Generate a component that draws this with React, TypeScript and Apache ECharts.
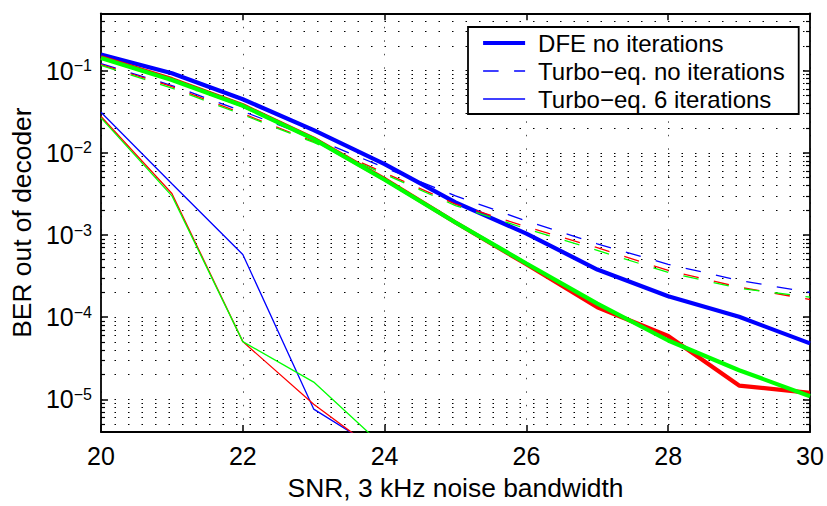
import React, { useEffect, useRef } from 'react';
import * as echarts from 'echarts';

// SNR values (dB, 3 kHz noise bandwidth)
const snr = [20, 21, 22, 23, 24, 25, 26, 27, 28, 29, 30];
const snrIter = [20, 21, 22, 23, 24];

// DFE, no iterations (thick solid)
const dfeBlue = [0.157, 0.093, 0.0449, 0.0189, 0.0073, 0.0025, 0.00104, 0.00038, 0.00018, 0.000101, 0.000048];
const dfeRed = [0.146, 0.079, 0.038, 0.0149, 0.0048, 0.00142, 0.00044, 0.000132, 0.000059, 0.0000147, 0.000012];
const dfeGreen = [0.143, 0.077, 0.0374, 0.0147, 0.0047, 0.00142, 0.00045, 0.000146, 0.000052, 0.0000226, 0.0000109];

// Turbo-equaliser, no iterations (dashed)
const turboBlue = [0.122, 0.066, 0.032, 0.0151, 0.0066, 0.003, 0.00148, 0.00078, 0.00044, 0.00028, 0.0002];
const turboRed = [0.119, 0.064, 0.03, 0.0137, 0.0057, 0.00238, 0.00126, 0.0007, 0.00037, 0.000232, 0.000164];
const turboGreen = [0.116, 0.0614, 0.0291, 0.0134, 0.0055, 0.00228, 0.00119, 0.00065, 0.00035, 0.000225, 0.000175];

// Turbo-equaliser, 6 iterations (thin solid)
const iterBlue = [0.0312, 0.0042, 0.00058, 0.0000076, 0.0000022];
const iterRed = [0.0277, 0.0032, 0.0000504, 0.0000087, 0.000002];
const iterGreen = [0.0267, 0.003, 0.0000504, 0.0000162, 0.0000026];

const legendNames = ['DFE no iterations', 'Turbo\u2212eq. no iterations', 'Turbo\u2212eq. 6 iterations'];
const yTickExponents = [-1, -2, -3, -4, -5];

const FONT = '"Liberation Sans", Arial, Helvetica, sans-serif';
const BLUE = '#0000ff';
const RED = '#ff0000';
const GREEN = '#00ff00';
const DASH = [15.5, 15.5];
const GRID_DOT = [1.5, 12];

const pairs = (xs: number[], ys: number[]) => xs.map((x, i) => [x, ys[i]]);

export default function App() {
  const ref = useRef<HTMLDivElement>(null);

  useEffect(() => {
    if (!ref.current) return;
    const chart = echarts.init(ref.current, null, { renderer: 'svg' });

    const mk = (name: string, xs: number[], ys: number[], color: string, width: number, type: any) => ({
      name,
      type: 'line',
      data: pairs(xs, ys),
      symbol: 'none',
      showSymbol: false,
      clip: true,
      lineStyle: { color, width, type },
      itemStyle: { color },
      emphasis: { disabled: true },
    });

    const option: any = {
      animation: false,
      backgroundColor: '#ffffff',
      textStyle: { fontFamily: FONT },
      grid: { left: 101, right: 17, top: 13.3, bottom: 63.3, containLabel: false },
      legend: {
        data: legendNames,
        orient: 'vertical',
        left: 468,
        top: 27,
        selectedMode: false,
        backgroundColor: '#ffffff',
        borderColor: '#000000',
        borderWidth: 1.8,
        borderRadius: 0,
        padding: [3, 14, 2, 13],
        itemWidth: 42,
        itemHeight: 14,
        itemGap: 2,
        itemStyle: { opacity: 0, borderWidth: 0 },
        lineStyle: { width: 'inherit', type: 'inherit' },
        textStyle: { fontSize: 24, color: '#000', fontFamily: FONT, lineHeight: 26, padding: [0, 0, 0, 8] },
      },
      xAxis: [
        {
          type: 'value',
          min: 20,
          max: 30,
          interval: 2,
          position: 'bottom',
          name: 'SNR, 3 kHz noise bandwidth',
          nameLocation: 'middle',
          nameGap: 43,
          nameTextStyle: { fontSize: 26.4, color: '#000', fontFamily: FONT },
          axisLine: { show: true, lineStyle: { color: '#000', width: 1.8 } },
          axisTick: { show: true, inside: true, length: 7, lineStyle: { color: '#000', width: 1.5 } },
          axisLabel: { fontSize: 25, color: '#000', margin: 11, fontFamily: FONT },
          splitLine: { show: true, lineStyle: { color: '#000', width: 1, type: GRID_DOT, opacity: 0.7 } },
        },
        {
          type: 'value',
          min: 20,
          max: 30,
          interval: 2,
          position: 'top',
          axisLine: { show: true, lineStyle: { color: '#000', width: 1.8 } },
          axisTick: { show: true, inside: true, length: 7, lineStyle: { color: '#000', width: 1.5 } },
          axisLabel: { show: false },
          splitLine: { show: false },
        },
      ],
      yAxis: [
        {
          type: 'log',
          logBase: 10,
          min: 4e-6,
          max: 0.5,
          position: 'left',
          name: 'BER out of decoder',
          nameLocation: 'middle',
          nameGap: 64,
          nameRotate: 90,
          nameTextStyle: { fontSize: 26.4, color: '#000', fontFamily: FONT },
          axisLine: { show: true, lineStyle: { color: '#000', width: 1.8 } },
          axisTick: { show: true, inside: true, length: 7, lineStyle: { color: '#000', width: 1.5 } },
          minorTick: { show: true, splitNumber: 9, length: 4, lineStyle: { color: '#000', width: 1.2 } },
          axisLabel: {
            margin: 9,
            color: '#000',
            fontFamily: FONT,
            formatter: (v: number) => {
              const l = Math.log10(v);
              const e = Math.round(l);
              if (Math.abs(l - e) > 1e-6 || yTickExponents.indexOf(e) < 0) return '';
              return `{b|10}{s|\u2212${Math.abs(e)}}`;
            },
            rich: {
              b: { fontSize: 25, lineHeight: 26, fontFamily: FONT, color: '#000' },
              s: { fontSize: 16, lineHeight: 8, verticalAlign: 'top', fontFamily: FONT, color: '#000' },
            },
          },
          splitLine: { show: true, lineStyle: { color: '#000', width: 1.2, type: GRID_DOT } },
          minorSplitLine: { show: true, lineStyle: { color: '#000', width: 1.2, type: GRID_DOT } },
        },
        {
          type: 'log',
          logBase: 10,
          min: 4e-6,
          max: 0.5,
          position: 'right',
          axisLine: { show: true, lineStyle: { color: '#000', width: 1.8 } },
          axisTick: { show: true, inside: true, length: 7, lineStyle: { color: '#000', width: 1.5 } },
          minorTick: { show: true, splitNumber: 9, length: 4, lineStyle: { color: '#000', width: 1.2 } },
          axisLabel: { show: false },
          splitLine: { show: false },
          minorSplitLine: { show: false },
        },
      ],
      series: [
        mk(legendNames[0], snr, dfeBlue, BLUE, 4.2, 'solid'),
        mk(legendNames[1], snr, turboBlue, BLUE, 1.3, DASH),
        mk(legendNames[2], snrIter, iterBlue, BLUE, 1.3, 'solid'),
        mk('DFE no iterations (red)', snr, dfeRed, RED, 4.2, 'solid'),
        mk('Turbo\u2212eq. no iterations (red)', snr, turboRed, RED, 1.3, DASH),
        mk('Turbo\u2212eq. 6 iterations (red)', snrIter, iterRed, RED, 1.3, 'solid'),
        mk('DFE no iterations (green)', snr, dfeGreen, GREEN, 4.2, 'solid'),
        mk('Turbo\u2212eq. no iterations (green)', snr, turboGreen, GREEN, 1.3, DASH),
        mk('Turbo\u2212eq. 6 iterations (green)', snrIter, iterGreen, GREEN, 1.3, 'solid'),
      ],
    };

    chart.setOption(option);
    return () => chart.dispose();
  }, []);

  return (
    <div
      ref={ref}
      style={{ position: 'fixed', left: 0, top: 0, width: 827, height: 506, background: '#fff' }}
    />
  );
}
